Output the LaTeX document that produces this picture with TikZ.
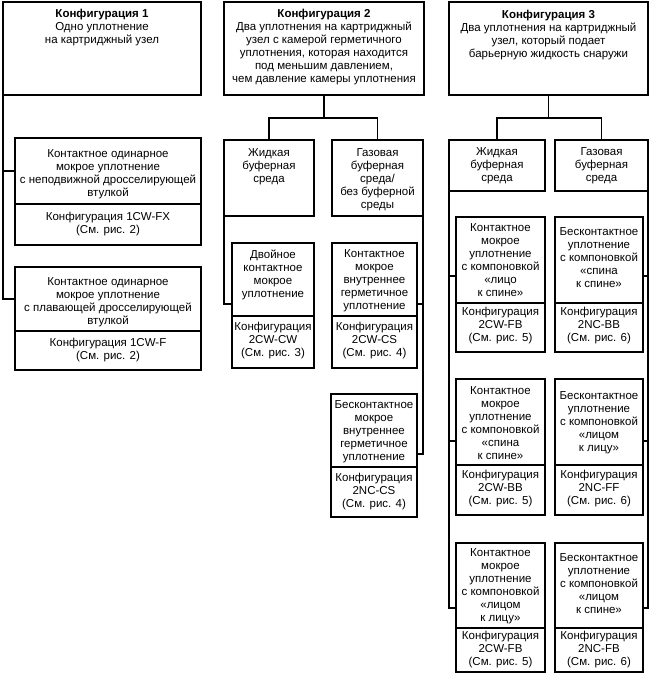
\documentclass[tikz,border=0pt]{standalone}
\usepackage{fontspec}
\setmainfont{Liberation Sans}
\begin{document}
\begin{tikzpicture}[x=1pt,y=-1pt,
  frame/.style={draw, line width=1.6pt, inner sep=0pt, outer sep=0pt, anchor=north west},
  lbl/.style={align=center, font=\fontsize{11.5}{13}\selectfont, inner sep=0pt},
  wire/.style={line width=1.6pt, line cap=rect}]
\newcommand\mybox[5]{\node[frame, minimum width={(#4-#2)*1pt}, minimum height={(#5-#3)*1pt}] (#1) at (#2,#3) {};}
\useasboundingbox (0,0) rectangle (650,680);
% ---------- top boxes
\mybox{c1}{3}{2}{201}{95}
\mybox{c2}{224}{2}{424}{95}
\mybox{c3}{449}{2}{648}{95}
\node[lbl] (tc1) at (102,28) {\textbf{Конфигурация 1}\\Одно уплотнение\\на картриджный узел};
\node[lbl] (tc2) at (324,47.5) {\textbf{Конфигурация 2}\\Два уплотнения на картриджный\\узел с камерой герметичного\\уплотнения, которая находится\\под меньшим давлением,\\чем давление камеры уплотнения};
\node[lbl] (tc3) at (548.5,35) {\textbf{Конфигурация 3}\\Два уплотнения на картриджный\\узел, который подает\\барьерную жидкость снаружи};
% ---------- configuration 1
\mybox{d1a}{15}{138}{201}{204}
\mybox{k1a}{15}{204}{201}{245}
\mybox{d1b}{15}{267}{201}{331}
\mybox{k1b}{15}{331}{201}{370}
\node[lbl] (td1a) at (108,174) {Контактное одинарное\\мокрое уплотнение\\с неподвижной дросселирующей\\втулкой};
\node[lbl] (tk1a) at (108,224.5) {Конфигурация 1CW-FX\\(См. рис. 2)};
\node[lbl] (td1b) at (108,302) {Контактное одинарное\\мокрое уплотнение\\с плавающей дросселирующей\\втулкой};
\node[lbl] (tk1b) at (108,350.5) {Конфигурация 1CW-F\\(См. рис. 2)};
\coordinate (j1a) at (c1.south west |- d1a.west);
\coordinate (j1b) at (c1.south west |- d1b.west);
\draw[wire] (c1.south west) -- (j1b) -- (d1b.west);
\draw[wire] (j1a) -- (d1a.west);
% ---------- configuration 2
\mybox{l2}{224}{140}{314}{216}
\mybox{g2}{332}{140}{423}{216}
\node[lbl] (tl2) at (269,167) {Жидкая\\буферная\\среда};
\node[lbl] (tg2) at (377.5,180) {Газовая\\буферная\\среда/\\без буферной\\среды};
\coordinate (h2) at (c2.south |- 0,118);
\draw[wire] (c2.south) -- (h2);
\draw[wire] (l2.north |- h2) -- (g2.north |- h2);
\draw[wire] (l2.north |- h2) -- (l2.north);
\draw[wire] (g2.north |- h2) -- (g2.north);
\mybox{d2a}{232}{243}{314}{316}
\mybox{k2a}{232}{316}{314}{368}
\mybox{d2b}{332}{243}{417}{316}
\mybox{k2b}{332}{316}{417}{368}
\mybox{d2c}{331}{394}{417}{467}
\mybox{k2c}{331}{467}{417}{517}
\node[lbl] (td2a) at (273,275) {Двойное\\контактное\\мокрое\\уплотнение};
\node[lbl] (tk2a) at (273,340.5) {Конфигурация\\2CW-CW\\(См. рис. 3)};
\node[lbl] (td2b) at (374.5,281) {Контактное\\мокрое\\внутреннее\\герметичное\\уплотнение};
\node[lbl] (tk2b) at (374.5,340.5) {Конфигурация\\2CW-CS\\(См. рис. 4)};
\node[lbl] (td2c) at (374,432) {Бесконтактное\\мокрое\\внутреннее\\герметичное\\уплотнение};
\node[lbl] (tk2c) at (374,491.5) {Конфигурация\\2NC-CS\\(См. рис. 4)};
\coordinate (j2a) at (l2.south west |- 0,304);
\draw[wire] (l2.south west) -- (j2a) -- (d2a.west |- j2a);
\coordinate (j2b) at (g2.south east |- 0,304);
\coordinate (j2c) at (g2.south east |- 0,454);
\draw[wire] (g2.south east) -- (j2c) -- (d2c.east |- j2c);
\draw[wire] (j2b) -- (d2b.east |- j2b);
% ---------- configuration 3
\mybox{l3}{449}{140}{545}{191}
\mybox{g3}{555}{140}{648}{191}
\node[lbl] (tl3) at (497,166) {Жидкая\\буферная\\среда};
\node[lbl] (tg3) at (601.5,166) {Газовая\\буферная\\среда};
\coordinate (h3) at (c3.south |- 0,118);
\draw[wire] (c3.south) -- (h3);
\draw[wire] (l3.north |- h3) -- (g3.north |- h3);
\draw[wire] (l3.north |- h3) -- (l3.north);
\draw[wire] (g3.north |- h3) -- (g3.north);
\mybox{d3a1}{456}{217}{545}{303}
\mybox{k3a1}{456}{303}{545}{352}
\mybox{d3a2}{456}{379}{545}{465}
\mybox{k3a2}{456}{465}{545}{515}
\mybox{d3a3}{456}{543}{545}{628}
\mybox{k3a3}{456}{628}{545}{672}
\mybox{d3b1}{555}{217}{643}{303}
\mybox{k3b1}{555}{303}{643}{352}
\mybox{d3b2}{555}{379}{643}{465}
\mybox{k3b2}{555}{465}{643}{515}
\mybox{d3b3}{555}{543}{643}{628}
\mybox{k3b3}{555}{628}{643}{672}
\node[lbl] (td3a1) at (500.5,260.5) {Контактное\\мокрое\\уплотнение\\с компоновкой\\«лицо\\к спине»};
\node[lbl] (tk3a1) at (500.5,326) {Конфигурация\\2CW-FB\\(См. рис. 5)};
\node[lbl] (td3a2) at (500.5,423.5) {Контактное\\мокрое\\уплотнение\\с компоновкой\\«спина\\к спине»};
\node[lbl] (tk3a2) at (500.5,489) {Конфигурация\\2CW-BB\\(См. рис. 5)};
\node[lbl] (td3a3) at (500.5,586.5) {Контактное\\мокрое\\уплотнение\\с компоновкой\\«лицом\\к лицу»};
\node[lbl] (tk3a3) at (500.5,649.5) {Конфигурация\\2CW-FB\\(См. рис. 5)};
\node[lbl] (td3b1) at (599,257.5) {Бесконтактное\\уплотнение\\с компоновкой\\«спина\\к спине»};
\node[lbl] (tk3b1) at (599,326) {Конфигурация\\2NC-BB\\(См. рис. 6)};
\node[lbl] (td3b2) at (599,422.5) {Бесконтактное\\уплотнение\\с компоновкой\\«лицом\\к лицу»};
\node[lbl] (tk3b2) at (599,489) {Конфигурация\\2NC-FF\\(См. рис. 6)};
\node[lbl] (td3b3) at (599,584) {Бесконтактное\\уплотнение\\с компоновкой\\«лицом\\к спине»};
\node[lbl] (tk3b3) at (599,649.5) {Конфигурация\\2NC-FB\\(См. рис. 6)};
\coordinate (j3a1) at (l3.south west |- 0,276);
\coordinate (j3a2) at (l3.south west |- 0,441);
\coordinate (j3a3) at (l3.south west |- 0,608);
\draw[wire] (l3.south west) -- (j3a3) -- (d3a3.west |- j3a3);
\draw[wire] (j3a1) -- (d3a1.west |- j3a1);
\draw[wire] (j3a2) -- (d3a2.west |- j3a2);
\coordinate (j3b1) at (g3.south east |- 0,276);
\coordinate (j3b2) at (g3.south east |- 0,441);
\coordinate (j3b3) at (g3.south east |- 0,608);
\draw[wire] (g3.south east) -- (j3b3) -- (d3b3.east |- j3b3);
\draw[wire] (j3b1) -- (d3b1.east |- j3b1);
\draw[wire] (j3b2) -- (d3b2.east |- j3b2);
\end{tikzpicture}
\end{document}
